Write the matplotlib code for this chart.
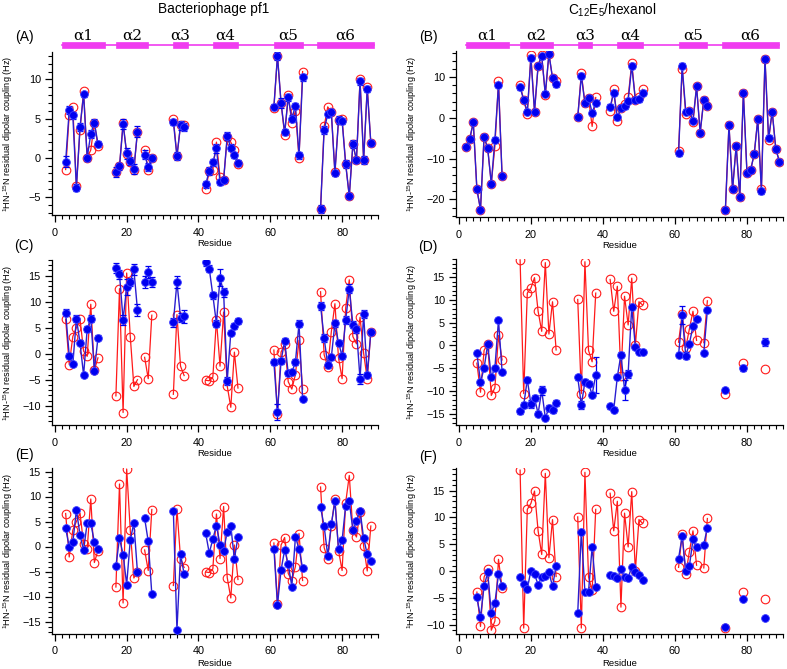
import numpy as np
import matplotlib
matplotlib.use('Agg')
import matplotlib.pyplot as plt
from matplotlib.ticker import MultipleLocator
import matplotlib.transforms as mtransforms
from matplotlib.patches import Rectangle

plt.rcParams['font.family'] = ['Liberation Sans', 'DejaVu Sans']
plt.rcParams['mathtext.fontset'] = 'custom'
plt.rcParams['mathtext.rm'] = 'Liberation Sans'
plt.rcParams['mathtext.it'] = 'Liberation Sans:italic'
plt.rcParams['mathtext.default'] = 'regular'

# ---------------- data ----------------
helix_names = ['α1', 'α2', 'α3', 'α4', 'α5', 'α6']
helix_start = [2, 17, 33, 44, 61, 73]
helix_end = [14, 26, 37, 51, 69, 89]

# Panel A (Bacteriophage pf1)
res_A = [*range(3, 13), *range(17, 24), 25, 26, 27, *range(33, 37), *range(42, 52),
         *range(61, 70), *range(74, 89)]
blue_A = [-0.5, 6.1, 5.4, -3.8, 3.9, 8.1, 0.0, 3.05, 4.5, 1.8,
          -1.8, -1.1, 4.3, 0.6, -0.4, -1.45, 3.35,
          0.4, -1.2, -0.05,
          4.6, 0.2, 4.15, 3.9,
          -3.4, -1.7, -0.6, 1.2, -3.1, -2.8, 2.75, 1.3, 0.35, -0.7,
          6.5, 13.0, 7.0, 3.25, 7.7, 5.0, 6.65, 0.3, 10.25,
          -6.5, 3.55, 5.6, 5.8, -1.95, 4.8, 4.7, -0.8, -4.9, 1.75, -0.25, 9.75, -0.25, 8.8, 1.9]
err_A = [0.7, 0.5, 0.4, 0.5, 0.5, 0.3, 0.4, 0.5, 0.4, 0.4,
         0.6, 0.4, 0.6, 0.7, 0.5, 0.6, 0.7,
         0.6, 0.5, 0.4,
         0.4, 0.5, 0.6, 0.5,
         0.5, 0.5, 0.5, 0.6, 0.4, 0.4, 0.5, 0.4, 0.4, 0.4,
         0.4, 0.5, 0.6, 0.4, 0.4, 0.4, 0.4, 0.4, 0.4,
         0.5, 0.5, 0.4, 0.4, 0.4, 0.5, 0.4, 0.5, 0.4, 0.5, 0.4, 0.4, 0.5, 0.4, 0.4]
red_A = [-1.5, 5.5, 6.5, -3.6, 3.6, 8.5, 0.0, 1.0, 4.4, 1.5,
         -1.8, -1.1, 4.5, 0.5, -0.5, -1.5, 3.3,
         1.0, -1.5, 0.0,
         5.0, 0.2, 4.2, 4.2,
         -4.0, -1.7, -1.5, 2.0, -2.5, -2.8, 2.6, 2.0, 1.0, -0.8,
         6.4, 13.0, 7.0, 2.9, 8.0, 4.4, 6.0, 0.0, 11.0,
         -6.5, 4.0, 6.5, 5.8, -1.8, 4.8, 5.0, -0.8, -4.9, 1.7, -0.3, 10.0, -0.3, 9.0, 1.9]

# Panel B (C12E5/hexanol)
res_B = [*range(2, 13), *range(17, 28), *range(33, 39), *range(42, 52),
         *range(61, 70), *range(74, 90)]
blue_B = [-7.1, -5.2, -1.1, -17.5, -22.5, -4.6, -7.5, -16.1, -5.3, 8.1, -14.3,
          7.5, 4.4, 1.55, 14.75, 1.55, 12.8, 15.1, 5.9, 15.7, 9.8, 8.2,
          0.15, 10.3, 3.6, 4.9, 1.3, 3.7,
          2.7, 6.2, 0.15, 2.45, 2.9, 4.2, 12.8, 4.5, 4.6, 6.2,
          -8.7, 12.8, 1.55, 1.7, -0.65, 7.7, -3.6, 4.4, 3.0,
          -22.6, -1.8, -17.5, -6.8, -19.4, 6.2, -13.6, -12.8, -8.9, -0.3, -17.9, 14.5, -5.0, 1.55, -7.6, -10.7]
err_B = [0.6] * 11 + [0.6] * 11 + [0.6] * 6 + [0.6] * 10 + [0.6] * 9 + [0.7] * 16
red_B = [-7.1, -5.2, -1.1, -17.5, -22.5, -4.6, -7.5, -16.1, -7.0, 9.0, -14.3,
         8.0, 4.4, 0.9, 15.5, 1.55, 12.8, 15.5, 5.5, 15.7, 9.8, 9.0,
         0.15, 11.0, 3.6, 4.9, -2.1, 5.0,
         1.8, 7.0, -0.7, 2.45, 3.5, 5.0, 13.5, 4.5, 5.0, 7.0,
         -8.0, 12.0, 1.0, 1.7, -1.1, 7.7, -3.6, 4.4, 3.0,
         -22.6, -1.8, -17.5, -6.8, -19.4, 6.2, -13.6, -12.8, -8.9, -0.3, -17.5, 14.5, -5.5, 1.55, -7.6, -10.7]

# Panels C and E (pf1) share residues and the red series
res_CE = [*range(3, 13), *range(17, 24), 25, 26, 27, *range(33, 37), *range(42, 52),
          *range(61, 70), *range(74, 89)]
red_CE = [6.6, -2.1, 3.3, 5.0, 6.7, 0.5, -0.5, 9.5, -3.2, -0.8,
          -8.1, 12.5, -11.3, 15.5, 3.3, -6.3, -5.0,
          -0.7, -4.8, 7.4,
          -7.8, 7.5, -2.4, -4.2,
          -5.1, -5.2, -4.5, 6.5, -2.4, 8.0, -6.2, -10.3, 0.3, -6.6,
          0.7, -11.5, 0.3, 1.8, -5.4, -6.8, -4.0, 2.6, -6.8,
          11.9, -0.2, -2.5, 4.2, 9.6, -0.8, -4.8, 8.8, 14.2, 3.3, 1.9, 7.0, 0.1, -4.9, 4.1]
blue_C = [7.9, -0.4, -2.0, 6.75, 2.1, -4.1, 4.7, 6.75, -3.25, 3.05,
          16.5, 15.25, 6.5, 12.85, 13.75, 16.2, 8.4,
          13.75, 15.7, 13.75,
          6.0, 13.75, 6.95, 7.15,
          17.65, 16.35, 11.2, 5.8, 14.6, 11.8, -5.2, 4.0, 5.3, 6.3,
          -1.6, -11.2, -1.4, 2.5, -3.8, -3.6, -1.6, 5.8, -8.7,
          9.2, 3.0, -2.15, -0.7, 5.85, 2.1, -0.4, 6.5, 12.5, 5.6, 4.7, -4.9, 7.6, -4.1, 4.15]
err_C = [0.7, 0.5, 0.4, 0.6, 0.5, 0.3, 0.6, 0.7, 0.5, 0.5,
         1.0, 0.9, 1.0, 1.5, 0.8, 1.1, 1.2,
         1.2, 1.1, 0.9,
         0.9, 1.2, 0.9, 1.2,
         0.8, 0.7, 0.7, 0.7, 1.6, 0.9, 0.8, 0.5, 0.6, 0.6,
         0.5, 1.6, 0.6, 0.5, 0.5, 0.5, 0.6, 0.6, 0.4,
         0.8, 0.7, 0.6, 0.5, 0.7, 0.6, 0.6, 0.7, 0.8, 0.7, 0.7, 1.0, 0.7, 0.6, 0.5]
blue_E = [3.65, -0.1, 0.85, 7.3, 2.3, -0.75, 4.75, 4.65, 0.9, -0.5,
          -3.9, 1.65, -1.6, -7.6, 1.3, 4.7, -5.1,
          5.65, 1.05, -9.5,
          7.1, -16.7, -1.55, -5.5,
          2.65, -1.3, 1.5, 4.2, 0.35, -0.8, 2.9, 4.1, -2.5, 1.95,
          -0.4, -11.65, -4.7, -0.65, -3.55, -8.0, 1.85, -0.4, -4.35,
          7.85, 4.05, -1.85, 4.45, 9.05, -0.45, 1.25, 8.2, 9.05, 3.25, 5.2, 7.2, 1.65, -1.55, -2.8]

# Panels D and F (C12E5/hexanol) share residues and the red series
res_DF = [*range(5, 13), *range(17, 28), *range(33, 39), *range(42, 52),
          *range(61, 67), 68, 69, 74, 79, 85]
red_DF = [-3.9, -10.3, -1.1, 0.4, -11.0, -9.3, 2.2, -3.2,
          18.8, -10.6, 11.5, 12.6, 14.9, 7.5, 3.1, 18.2, 2.5, 9.6, -1.0,
          10.1, -10.6, 18.4, -1.1, -3.6, 11.5,
          14.5, 7.5, 13.0, -6.7, 10.8, 4.5, 14.8, 0.0, 9.6, 8.9,
          0.7, 6.9, -0.5, 3.6, 7.5, 1.1, 0.6, 9.8,
          -10.6, -3.8, -5.2]
blue_D = [-1.7, -8.1, -5.0, 0.3, -6.9, -5.0, 5.6, -5.8,
          -14.5, -13.1, -7.5, -12.9, -11.6, -15.0, -9.9, -15.9, -13.8, -14.3, -12.7,
          -7.0, -13.1, -8.0, -8.4, -10.8, -6.5,
          -13.4, -14.1, -6.9, -2.0, -9.7, -6.2, 8.5, -0.3, -1.4, -1.5,
          -2.1, 6.6, -2.25, 0.4, 4.2, 5.85, -1.7, 7.8,
          -9.8, -5.0, 0.7]
err_D = [0.4, 0.6, 0.5, 0.4, 0.5, 0.5, 0.4, 0.4,
         0.6, 0.6, 0.6, 0.8, 0.6, 0.6, 0.9, 0.6, 0.6, 0.6, 0.6,
         0.5, 0.8, 0.6, 0.6, 0.5, 4.0,
         0.5, 0.6, 0.5, 0.5, 2.2, 0.9, 0.5, 0.5, 0.4, 0.4,
         0.4, 2.0, 0.7, 0.4, 0.4, 0.4, 0.4, 0.5,
         0.5, 0.6, 0.9]
blue_F = [-4.9, -8.6, -2.8, -0.25, -7.8, -5.9, -0.6, -2.7,
          -1.0, -2.35, -3.3, 0.1, -0.6, -2.5, -1.05, -0.9, -0.2, -2.85, 1.0,
          -7.8, 7.35, -3.9, -3.8, 4.55, -3.0,
          -0.7, -0.85, -1.3, 0.35, -1.0, -1.3, 0.85, -0.2, -0.8, -1.7,
          2.35, 6.5, 0.0, 0.9, 5.9, 4.55, 4.95, 8.1,
          -10.4, -5.25, -8.65]

titles = ['Bacteriophage pf1', 'C$_{12}$E$_{5}$/hexanol']
ylabel = '$^{1}$HN-$^{15}$N residual dipolar coupling (Hz)'

BLUE = '#0000f0'
BLUE_LINE = '#2a1ed0'
RED = '#ff1a1a'
MAG = '#f03cf0'

W, H = 787, 669
fig = plt.figure(figsize=(W / 100, H / 100), dpi=100)


def box(l, r, t, b):
    return [l / W, 1 - b / H, (r - l) / W, (b - t) / H]


def gapped(res, vals):
    xs, ys = [], []
    prev = None
    for r, v in zip(res, vals):
        if prev is not None and r - prev > 1:
            xs.append(np.nan)
            ys.append(np.nan)
        xs.append(r)
        ys.append(v)
        prev = r
    return xs, ys


panels = [
    ('(A)', box(52, 378, 52, 215), res_A, blue_A, err_A, res_A, red_A, (-7.3, 13.5), 5, 1, True, 36.5),
    ('(B)', box(456, 783, 51, 217), res_B, blue_B, err_B, res_B, red_B, (-24.3, 16.4), 10, 2, True, 36.5),
    ('(C)', box(52, 378, 260, 425), res_CE, blue_C, err_C, res_CE, red_CE, (-13.7, 18.0), 5, 1, False, 246.5),
    ('(D)', box(456, 783, 259, 425), res_DF, blue_D, err_D, res_DF, red_DF, (-17.5, 19.0), 5, 1, False, 246.5),
    ('(E)', box(52, 378, 468, 634), res_CE, blue_E, None, res_CE, red_CE, (-17.5, 15.7), 5, 1, False, 455.5),
    ('(F)', box(456, 783, 468, 634), res_DF, blue_F, None, res_DF, red_DF, (-11.7, 19.2), 5, 1, False, 456.5),
]

for label, rect, rb, vb, eb, rr, vr, ylim, ymaj, ymin, helices, label_y in panels:
    ax = fig.add_axes(rect)
    ax.patch.set_alpha(0)
    xr, yr = gapped(rr, vr)
    ax.plot(xr, yr, '-', color=RED, lw=0.9, zorder=2)
    ax.plot(rr, vr, 'o', mfc='none', mec=RED, mew=0.8, ms=6.2, zorder=2)
    xb, yb = gapped(rb, vb)
    ax.plot(xb, yb, '-', color=BLUE_LINE, lw=1.0, zorder=3)
    if eb is not None:
        ax.errorbar(rb, vb, yerr=eb, fmt='none', ecolor=BLUE, elinewidth=0.9,
                    capsize=2.5, capthick=0.9, zorder=3)
    ax.plot(rb, vb, 'o', color=BLUE, mec='#4040ff', mew=0.6, ms=5.6, zorder=4)

    ax.set_xlim(-0.8, 90)
    ax.set_ylim(*ylim)
    for s in ['top', 'right']:
        ax.spines[s].set_visible(False)
    ax.spines['left'].set_linewidth(0.9)
    ax.spines['bottom'].set_linewidth(0.9)
    ax.xaxis.set_major_locator(MultipleLocator(20))
    ax.xaxis.set_minor_locator(MultipleLocator(2))
    ax.yaxis.set_major_locator(MultipleLocator(ymaj))
    ax.yaxis.set_minor_locator(MultipleLocator(ymin))
    ax.tick_params(which='major', direction='out', length=5, width=0.9, labelsize=7.8)
    ax.tick_params(axis='x', which='major', pad=4)
    ax.tick_params(axis='y', which='major', pad=3)
    ax.tick_params(which='minor', direction='out', length=2.6, width=0.8)
    hpx = rect[3] * H
    wpx = rect[2] * W
    ax.set_xlabel('Residue', fontsize=6.8, va='center')
    ax.xaxis.set_label_coords(0.5, -29 / hpx)
    ax.set_ylabel(ylabel, fontsize=6.6, va='center')
    ax.yaxis.set_label_coords(-44 / wpx, 0.5)

    lx = 24 if rect[0] < 0.5 else 428
    top_px = (1 - rect[1] - rect[3]) * H
    ax.text((lx - rect[0] * W) / wpx, 1 + (top_px - label_y) / hpx,
            label, transform=ax.transAxes, ha='center', va='center', fontsize=10)

    if helices:
        trans = mtransforms.blended_transform_factory(ax.transData, ax.transAxes)
        yc = 1 + (top_px - 45) / hpx
        bh = 6.5 / hpx
        ax.plot([helix_start[0], helix_end[-1]], [yc, yc], color=MAG, lw=1.2,
                transform=trans, clip_on=False, zorder=5)
        for name, s, e in zip(helix_names, helix_start, helix_end):
            ax.add_patch(Rectangle((s, yc - bh / 2), e - s, bh, transform=trans,
                                   facecolor=MAG, edgecolor=MAG, lw=0.5, clip_on=False, zorder=6))
            ax.text((s + e) / 2, 1 + (top_px - 35.5) / hpx, name, transform=trans,
                    ha='center', va='center', fontsize=11, family='DejaVu Serif')

fig.text(214 / W, 1 - 9 / H, titles[0], ha='center', va='center', fontsize=9.8)
fig.text(612 / W, 1 - 10 / H, titles[1], ha='center', va='center', fontsize=9.8)

fig.savefig('out.png', dpi=100)
